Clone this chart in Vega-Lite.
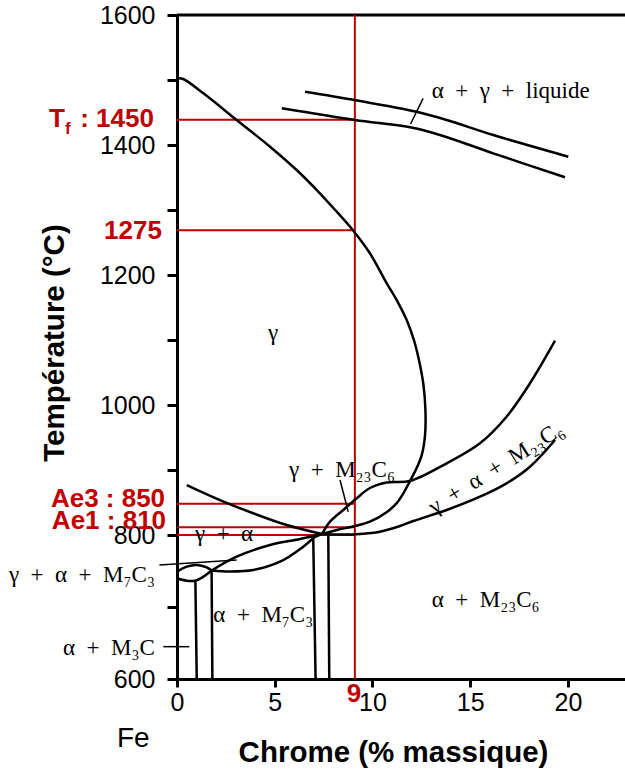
{
  "$schema": "https://vega.github.io/schema/vega-lite/v6.json",
  "width": 448,
  "height": 664,
  "autosize": {"type": "none"},
  "padding": {"left": 177, "top": 15, "right": 0, "bottom": 90},
  "config": {"view": {"stroke": null}, "font": "Liberation Sans"},
  "datasets": {
    "curves": [
      {"c": "A", "o": 1, "x": 0.07, "y": 1502.6},
      {"c": "A", "o": 2, "x": 0.32, "y": 1501.5},
      {"c": "A", "o": 3, "x": 1.35, "y": 1479.5},
      {"c": "A", "o": 4, "x": 3.05, "y": 1438.5},
      {"c": "A", "o": 5, "x": 4.76, "y": 1397.4},
      {"c": "A", "o": 6, "x": 6.12, "y": 1361.5},
      {"c": "A", "o": 7, "x": 7.31, "y": 1325.7},
      {"c": "A", "o": 8, "x": 8.17, "y": 1297.4},
      {"c": "A", "o": 9, "x": 9.02, "y": 1268.2},
      {"c": "A", "o": 10, "x": 9.87, "y": 1233.4},
      {"c": "A", "o": 11, "x": 10.73, "y": 1187.2},
      {"c": "A", "o": 12, "x": 11.24, "y": 1161.5},
      {"c": "A", "o": 13, "x": 11.75, "y": 1130.8},
      {"c": "A", "o": 14, "x": 12.12, "y": 1100},
      {"c": "A", "o": 15, "x": 12.4, "y": 1066.2},
      {"c": "A", "o": 16, "x": 12.61, "y": 1030.8},
      {"c": "A", "o": 17, "x": 12.71, "y": 992.3},
      {"c": "A", "o": 18, "x": 12.69, "y": 953.8},
      {"c": "A", "o": 19, "x": 12.52, "y": 923},
      {"c": "A", "o": 20, "x": 12.26, "y": 903},
      {"c": "A", "o": 21, "x": 11.92, "y": 883},
      {"c": "A", "o": 22, "x": 11.56, "y": 863},
      {"c": "A", "o": 23, "x": 11.24, "y": 849},
      {"c": "A", "o": 24, "x": 10.74, "y": 835.4},
      {"c": "A", "o": 25, "x": 9.87, "y": 820.5},
      {"c": "A", "o": 26, "x": 9.1, "y": 813.8},
      {"c": "A", "o": 27, "x": 8.18, "y": 807.7},
      {"c": "A", "o": 28, "x": 7.42, "y": 801.5},
      {"c": "B", "o": 1, "x": 0.5, "y": 876.9},
      {"c": "B", "o": 2, "x": 2.2, "y": 853.8},
      {"c": "B", "o": 3, "x": 3.9, "y": 833.4},
      {"c": "B", "o": 4, "x": 5.61, "y": 815.4},
      {"c": "B", "o": 5, "x": 7.42, "y": 801.5},
      {"c": "C", "o": 1, "x": 7.42, "y": 801.5},
      {"c": "C", "o": 2, "x": 7.83, "y": 820.5},
      {"c": "C", "o": 3, "x": 8.51, "y": 838.5},
      {"c": "C", "o": 4, "x": 9.19, "y": 856.5},
      {"c": "C", "o": 5, "x": 9.87, "y": 872.3},
      {"c": "C", "o": 6, "x": 10.73, "y": 880.8},
      {"c": "C", "o": 7, "x": 11.92, "y": 883.1},
      {"c": "C", "o": 8, "x": 13.8, "y": 910.3},
      {"c": "C", "o": 9, "x": 15.5, "y": 941.1},
      {"c": "C", "o": 10, "x": 16.86, "y": 982},
      {"c": "C", "o": 11, "x": 18.06, "y": 1033.4},
      {"c": "C", "o": 12, "x": 19.34, "y": 1098.9},
      {"c": "D", "o": 1, "x": 7.42, "y": 801.5},
      {"c": "D", "o": 2, "x": 8.34, "y": 800.7},
      {"c": "D", "o": 3, "x": 9.36, "y": 801.5},
      {"c": "D", "o": 4, "x": 10.38, "y": 805.1},
      {"c": "D", "o": 5, "x": 11.41, "y": 813.8},
      {"c": "D", "o": 6, "x": 12.09, "y": 821.5},
      {"c": "D", "o": 7, "x": 13.8, "y": 838.5},
      {"c": "D", "o": 8, "x": 15.5, "y": 858.9},
      {"c": "D", "o": 9, "x": 16.86, "y": 879.5},
      {"c": "D", "o": 10, "x": 18.06, "y": 905.1},
      {"c": "D", "o": 11, "x": 19.34, "y": 946.2},
      {"c": "E", "o": 1, "x": 6.55, "y": 1482},
      {"c": "E", "o": 2, "x": 9.1, "y": 1469.2},
      {"c": "E", "o": 3, "x": 12.26, "y": 1451.2},
      {"c": "E", "o": 4, "x": 13.8, "y": 1438.5},
      {"c": "E", "o": 5, "x": 16.18, "y": 1415.4},
      {"c": "E", "o": 6, "x": 20.02, "y": 1382},
      {"c": "F", "o": 1, "x": 5.36, "y": 1456.5},
      {"c": "F", "o": 2, "x": 9.1, "y": 1438.5},
      {"c": "F", "o": 3, "x": 11.92, "y": 1427.2},
      {"c": "F", "o": 4, "x": 13.45, "y": 1415.4},
      {"c": "F", "o": 5, "x": 16.18, "y": 1387.2},
      {"c": "F", "o": 6, "x": 19.85, "y": 1350.3},
      {"c": "G", "o": 1, "x": 1.77, "y": 750.6},
      {"c": "G", "o": 2, "x": 3.05, "y": 769.9},
      {"c": "G", "o": 3, "x": 4.76, "y": 786.1},
      {"c": "G", "o": 4, "x": 6.29, "y": 794.4},
      {"c": "G", "o": 5, "x": 7.42, "y": 801.5},
      {"c": "H", "o": 1, "x": 1.77, "y": 750.6},
      {"c": "H", "o": 2, "x": 2.71, "y": 749.3},
      {"c": "H", "o": 3, "x": 3.9, "y": 751.4},
      {"c": "H", "o": 4, "x": 5.27, "y": 762.9},
      {"c": "H", "o": 5, "x": 6.46, "y": 783.8},
      {"c": "H", "o": 6, "x": 7.06, "y": 797.2},
      {"c": "H", "o": 7, "x": 7.42, "y": 801.5},
      {"c": "LU", "o": 1, "x": 0, "y": 749},
      {"c": "LU", "o": 2, "x": 0.5, "y": 756},
      {"c": "LU", "o": 3, "x": 1.01, "y": 758.3},
      {"c": "LU", "o": 4, "x": 1.52, "y": 755.1},
      {"c": "LU", "o": 5, "x": 1.77, "y": 750.6},
      {"c": "LL", "o": 1, "x": 0, "y": 739.9},
      {"c": "LL", "o": 2, "x": 0.5, "y": 736.5},
      {"c": "LL", "o": 3, "x": 0.92, "y": 736.5},
      {"c": "LL", "o": 4, "x": 1.35, "y": 742.1},
      {"c": "LL", "o": 5, "x": 1.77, "y": 750.6},
      {"c": "V1", "o": 1, "x": 0.94, "y": 737},
      {"c": "V1", "o": 2, "x": 1.01, "y": 600},
      {"c": "V2", "o": 1, "x": 1.77, "y": 750.6},
      {"c": "V2", "o": 2, "x": 1.81, "y": 600},
      {"c": "V3", "o": 1, "x": 6.97, "y": 795.4},
      {"c": "V3", "o": 2, "x": 7.09, "y": 600},
      {"c": "V4", "o": 1, "x": 7.74, "y": 800.8},
      {"c": "V4", "o": 2, "x": 7.79, "y": 600}
    ],
    "leaders": [
      {"c": "L1", "o": 1, "x": 12.59, "y": 1471.8},
      {"c": "L1", "o": 2, "x": 11.95, "y": 1432.3},
      {"c": "L2", "o": 1, "x": 8.34, "y": 884.6},
      {"c": "L2", "o": 2, "x": 8.76, "y": 835.8},
      {"c": "L3", "o": 1, "x": -0.9, "y": 758.3},
      {"c": "L3", "o": 2, "x": 3.05, "y": 765.3},
      {"c": "L4", "o": 1, "x": -0.7, "y": 644.9},
      {"c": "L4", "o": 2, "x": 0.63, "y": 644.9}
    ],
    "redlines": [
      {"x": 0, "x2": 9.1, "y": 1439, "y2": 1439},
      {"x": 0, "x2": 9.1, "y": 1269, "y2": 1269},
      {"x": 0, "x2": 9.1, "y": 848, "y2": 848},
      {"x": 0, "x2": 9.1, "y": 812, "y2": 812},
      {"x": 0, "x2": 9.1, "y": 800, "y2": 800},
      {"x": 9.1, "x2": 9.1, "y": 600, "y2": 1600}
    ]
  },
  "encoding": {
    "x": {
      "field": "x",
      "type": "quantitative",
      "scale": {"domain": [0, 22.92], "nice": false, "zero": false},
      "axis": {
        "values": [0, 5, 10, 15, 20],
        "grid": false,
        "domainColor": "black",
        "domainWidth": 3,
        "tickColor": "black",
        "tickWidth": 3,
        "tickSize": 8,
        "labelFont": "Liberation Sans",
        "labelFontSize": 25,
        "labelColor": "black",
        "labelPadding": 3,
        "labelFlush": false,
        "labelOverlap": false,
        "title": "Chrome (% massique)",
        "titleFont": "Liberation Sans",
        "titleFontSize": 29.5,
        "titleFontWeight": "bold",
        "titleColor": "black",
        "titleX": 216,
        "titleY": 82,
        "titleAlign": "center",
        "titleBaseline": "alphabetic"
      }
    },
    "y": {
      "field": "y",
      "type": "quantitative",
      "scale": {"domain": [600, 800, 1600], "range": [664, 520, 0], "nice": false, "zero": false},
      "axis": {
        "values": [600, 700, 800, 900, 1000, 1100, 1200, 1300, 1400, 1500, 1600],
        "labelExpr": "datum.value % 200 === 0 ? datum.label : ''",
        "format": "d",
        "grid": false,
        "domainColor": "black",
        "domainWidth": 3,
        "tickColor": "black",
        "tickWidth": 3,
        "tickSize": 10,
        "labelFont": "Liberation Sans",
        "labelFontSize": 25,
        "labelColor": "black",
        "labelPadding": 12,
        "labelFlush": false,
        "labelOverlap": false,
        "title": "Température (°C)",
        "titleFont": "Liberation Sans",
        "titleFontSize": 29.5,
        "titleFontWeight": "bold",
        "titleColor": "black",
        "titleAngle": -90,
        "titleX": -114,
        "titleY": 327.5,
        "titleAlign": "center",
        "titleBaseline": "alphabetic"
      }
    }
  },
  "layer": [
    {
      "data": {"values": [{"x": 0, "x2": 22.92, "y": 1600}]},
      "mark": {"type": "rule", "color": "black", "strokeWidth": 3},
      "encoding": {"x2": {"field": "x2"}}
    },
    {
      "data": {"name": "redlines"},
      "mark": {"type": "rule", "color": "#c00000", "strokeWidth": 2},
      "encoding": {"x2": {"field": "x2"}, "y2": {"field": "y2"}}
    },
    {
      "data": {"name": "curves"},
      "mark": {"type": "line", "color": "black", "strokeWidth": 2.5, "interpolate": "catmull-rom", "clip": false},
      "encoding": {"detail": {"field": "c"}, "order": {"field": "o", "type": "quantitative"}}
    },
    {
      "data": {"name": "leaders"},
      "mark": {"type": "line", "color": "black", "strokeWidth": 1.5, "clip": false},
      "encoding": {"detail": {"field": "c"}, "order": {"field": "o", "type": "quantitative"}}
    },
    {
      "data": {"values": [
        {"t": "α\u2002+\u2002γ\u2002+\u2002liquide", "x": 13.03, "y": 1471.8},
        {"t": "γ\u2002+\u2002M₂₃C₆", "x": 5.73, "y": 889.7},
        {"t": "γ\u2002+\u2002α", "x": 0.92, "y": 792},
        {"t": "α\u2002+\u2002M₇C₃", "x": 1.86, "y": 679.6},
        {"t": "α\u2002+\u2002M₂₃C₆", "x": 13.03, "y": 700.4}
      ]},
      "mark": {"type": "text", "font": "Liberation Serif", "fontSize": 23, "align": "left", "baseline": "alphabetic", "color": "black", "clip": false},
      "encoding": {"text": {"field": "t"}}
    },
    {
      "data": {"values": [
        {"t": "γ\u2002+\u2002α\u2002+\u2002M₇C₃", "x": -1.13, "y": 735.1},
        {"t": "α\u2002+\u2002M₃C", "x": -1.13, "y": 633.3}
      ]},
      "mark": {"type": "text", "font": "Liberation Serif", "fontSize": 23, "align": "right", "baseline": "alphabetic", "color": "black", "clip": false},
      "encoding": {"text": {"field": "t"}}
    },
    {
      "data": {"values": [{"t": "γ", "x": 4.91, "y": 1100}]},
      "mark": {"type": "text", "font": "Liberation Serif", "fontSize": 23, "align": "center", "baseline": "alphabetic", "color": "black"},
      "encoding": {"text": {"field": "t"}}
    },
    {
      "data": {"values": [{"t": "γ\u2002+\u2002α\u2002+\u2002M₂₃C₆", "x": 16.32, "y": 903}]},
      "mark": {"type": "text", "font": "Liberation Serif", "fontSize": 23, "align": "center", "baseline": "middle", "angle": -32, "color": "black"},
      "encoding": {"text": {"field": "t"}}
    },
    {
      "data": {"values": [{"t": "Fe", "x": -3.07, "y": 506}]},
      "mark": {"type": "text", "font": "Liberation Sans", "fontSize": 28, "align": "left", "baseline": "alphabetic", "color": "black", "clip": false},
      "encoding": {"text": {"field": "t"}}
    },
    {
      "data": {"values": [
        {"t": "1275", "x": -0.77, "y": 1268},
        {"t": "Ae3 : 850", "x": -0.61, "y": 855.8},
        {"t": "Ae1 : 810", "x": -0.56, "y": 821.5},
        {"t": ": 1450", "x": -1.18, "y": 1440}
      ]},
      "mark": {"type": "text", "font": "Liberation Sans", "fontSize": 26, "fontWeight": "bold", "align": "right", "baseline": "middle", "color": "#c00000", "clip": false},
      "encoding": {"text": {"field": "t"}}
    },
    {
      "data": {"values": [{"t": "T", "x": -6.55, "y": 1440}]},
      "mark": {"type": "text", "font": "Liberation Sans", "fontSize": 26, "fontWeight": "bold", "align": "left", "baseline": "middle", "color": "#c00000", "clip": false},
      "encoding": {"text": {"field": "t"}}
    },
    {
      "data": {"values": [{"t": "f", "x": -5.73, "y": 1424.6}]},
      "mark": {"type": "text", "font": "Liberation Sans", "fontSize": 17, "fontWeight": "bold", "align": "left", "baseline": "middle", "color": "#c00000", "clip": false},
      "encoding": {"text": {"field": "t"}}
    },
    {
      "data": {"values": [{"t": "9", "x": 9.05, "y": 579.6}]},
      "mark": {"type": "text", "font": "Liberation Sans", "fontSize": 26, "fontWeight": "bold", "align": "center", "baseline": "middle", "color": "#c00000", "clip": false},
      "encoding": {"text": {"field": "t"}}
    }
  ]
}
